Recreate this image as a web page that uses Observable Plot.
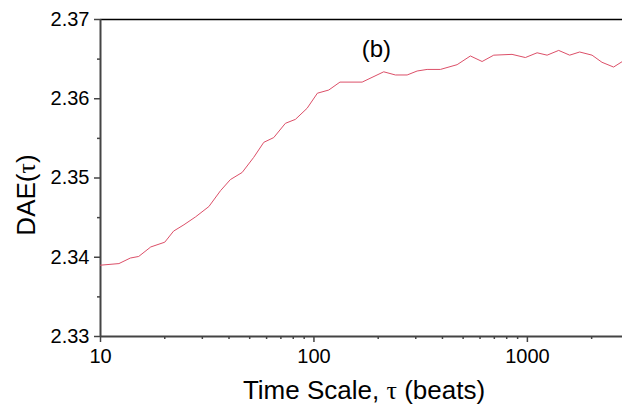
<!DOCTYPE html>
<html>
<head>
<meta charset="utf-8">
<script src="https://cdn.jsdelivr.net/npm/d3@7"></script>
<script src="https://cdn.jsdelivr.net/npm/@observablehq/plot@0.6"></script>
<style>
  html, body { margin: 0; padding: 0; background: white; }
</style>
</head>
<body>
<div id="chart"></div>
<script>
// Time scale tau (beats)
const tau = [10, 12.2, 13.8, 15.1, 17.2, 20.0, 22.0, 24.6, 27.9, 32.2, 36.5, 40.6, 46.1, 52.2, 58.2, 64.8, 73.5, 81.9, 92.9, 103.8, 117.3, 132.4, 168.2, 212.3, 240.8, 273.3, 304.4, 339.0, 391.3, 468.5, 540.8, 613.5, 695.5, 847.3, 978.6, 1110.4, 1237, 1401.6, 1578, 1758, 2009, 2236, 2534, 2786];
// DAE(tau)
const dae = [2.3390, 2.3392, 2.3399, 2.3401, 2.3413, 2.3419, 2.3433, 2.3441, 2.3451, 2.3464, 2.3484, 2.3498, 2.3507, 2.3526, 2.3545, 2.3551, 2.3569, 2.3574, 2.3588, 2.3607, 2.3611, 2.3621, 2.3621, 2.3634, 2.3630, 2.3630, 2.3635, 2.3637, 2.3637, 2.3643, 2.3654, 2.3647, 2.3655, 2.3656, 2.3652, 2.3658, 2.3655, 2.3661, 2.3655, 2.3659, 2.3655, 2.3646, 2.3640, 2.3647];

const xMajor = [10, 100, 1000];
const xMinor = [20, 30, 40, 50, 60, 70, 80, 90, 200, 300, 400, 500, 600, 700, 800, 900, 2000];
const yMajor = [2.33, 2.34, 2.35, 2.36, 2.37];
const yMinor = [2.335, 2.345, 2.355, 2.365];
const panelLabel = [{text: "(b)", tau: 196, dae: 2.3663}];

const data = tau.map((t, i) => ({tau: t, dae: dae[i]}));
const axisColor = "#444";

const plot = Plot.plot({
  width: 622,
  height: 406,
  marginLeft: 100,
  marginRight: 0,
  marginTop: 19,
  marginBottom: 70,
  style: {fontFamily: "'Liberation Sans', Arial, sans-serif", color: "black", background: "white"},
  x: {type: "log", domain: [10, 2790]},
  y: {domain: [2.33, 2.37]},
  marks: [
    Plot.axisX({ticks: xMajor, tickFormat: d => String(d), tickSize: 6, tickPadding: 6, fontSize: 20, label: null, stroke: axisColor, strokeWidth: 1.5}),
    Plot.axisX({ticks: xMinor, tickFormat: () => "", tickSize: 3, label: null, stroke: axisColor, strokeWidth: 1.5}),
    Plot.axisY({ticks: yMajor, tickFormat: d => d.toFixed(2), tickSize: 6, tickPadding: 5, fontSize: 20, label: null, stroke: axisColor, strokeWidth: 1.5}),
    Plot.axisY({ticks: yMinor, tickFormat: () => "", tickSize: 3, label: null, stroke: axisColor, strokeWidth: 1.5}),
    Plot.ruleY([2.37], {stroke: "black", strokeWidth: 1.5}),
    Plot.ruleY([2.33], {stroke: axisColor, strokeWidth: 2}),
    Plot.ruleX([10], {stroke: axisColor, strokeWidth: 2}),
    Plot.line(data, {x: "tau", y: "dae", stroke: "#dc4f68", strokeWidth: 1}),
    Plot.text(panelLabel, {x: "tau", y: "dae", text: "text", fontSize: 24, fill: "black"})
  ]
});

const svg = d3.select(plot);
svg.selectAll('g[aria-label$="tick label"]').style("font-size", "20px").selectAll("text").style("font-size", "20px");
const serif = "'Liberation Serif', 'Times New Roman', serif";

const xt = svg.append("text")
  .attr("x", 364).attr("y", 399)
  .attr("text-anchor", "middle")
  .style("font-size", "26px")
  .style("font-family", "'Liberation Sans', Arial, sans-serif")
  .attr("fill", "black");
xt.append("tspan").text("Time Scale, ");
xt.append("tspan").style("font-family", serif).text("τ");
xt.append("tspan").text(" (beats)");

const yt = svg.append("text")
  .attr("transform", "translate(35,195) rotate(-90)")
  .attr("text-anchor", "middle")
  .style("font-size", "26px")
  .style("font-family", "'Liberation Sans', Arial, sans-serif")
  .attr("fill", "black");
yt.append("tspan").text("DAE(");
yt.append("tspan").style("font-family", serif).text("τ");
yt.append("tspan").text(")");

document.getElementById("chart").appendChild(plot);
</script>
</body>
</html>
